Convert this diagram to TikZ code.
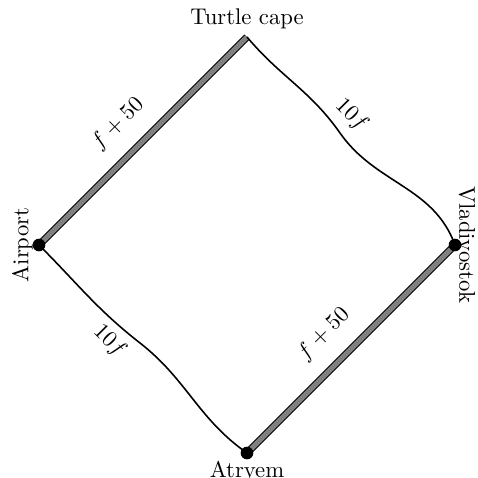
\documentclass[tikz,border=0pt]{standalone}
\usepackage{amsmath,amssymb}
\usepackage{tikz}
\usetikzlibrary{positioning}

\begin{document}
\begin{tikzpicture}[
  x=0.0155cm, y=0.0155cm,
  dot/.style={circle,fill=black,inner sep=0pt,minimum size=5.6pt},
  road/.style={line width=0.45pt,double=gray,double distance=2.3pt},
  wavy/.style={line width=0.7pt}
]
\useasboundingbox (-247,-233) rectangle (231,245);
\coordinate (tc) at (0,208);
\coordinate (vl) at (208,0);
\coordinate (at) at (0,-208);
\coordinate (ap) at (-208,0);
\coordinate (m1) at (93,112);
\coordinate (m2) at (-107,-98);
\draw[road] (ap) -- node[pos=0.48,above=5pt,sloped] {$f+50$} (tc);
\draw[road] (at) -- node[pos=0.47,above=5pt,sloped] {$f+50$} (vl);
\draw[wavy] (tc) to[out=-50,in=125] (m1) to[out=-55,in=110] (vl);
\draw[wavy] (ap) to[out=-45,in=142] (m2) to[out=-38,in=145] (at);
\path (tc) -- node[pos=0.44,above,sloped] {$10f$} (vl);
\path (ap) -- node[pos=0.4,below,sloped] {$10f$} (at);
\node[dot] (apd) at (ap) {};
\node[dot] (vld) at (vl) {};
\node[dot] (atd) at (at) {};
\node[above] (tcl) at (tc) {Turtle cape};
\node[rotate=90,anchor=south,inner sep=2.6pt] (apl) at (ap) {Airport};
\node[rotate=-90,anchor=south,inner sep=1.5pt] (vll) at (vl) {Vladivostok};
\node[below] (atl) at (at) {Atryem};
\end{tikzpicture}
\end{document}
